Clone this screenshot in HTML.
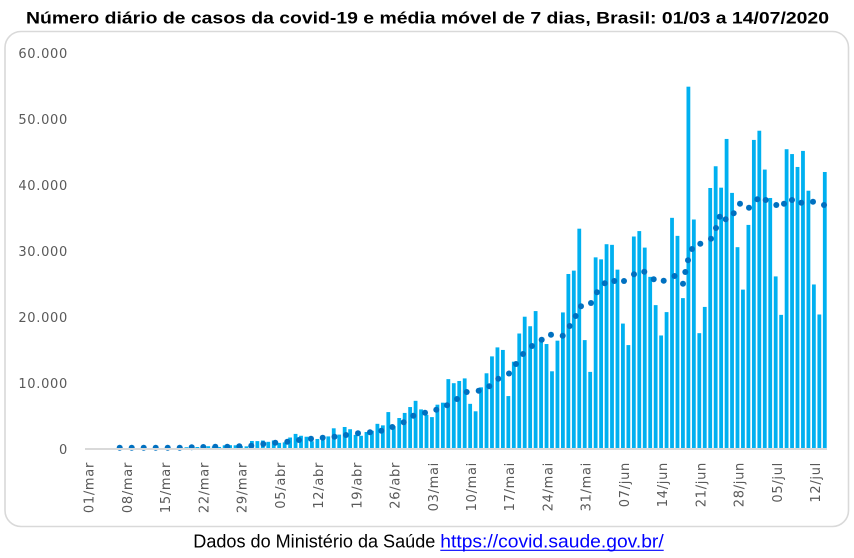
<!DOCTYPE html>
<html>
<head>
<meta charset="utf-8">
<style>
  html, body { margin: 0; padding: 0; background: #ffffff; }
  body { width: 854px; height: 558px; overflow: hidden; }
  svg { display: block; }
  .yl { font-family: "DejaVu Sans", "Liberation Sans", sans-serif; font-size: 13px; fill: #595959; letter-spacing: 0.7px; }
  .xl { font-family: "DejaVu Sans", "Liberation Sans", sans-serif; font-size: 13px; fill: #595959; letter-spacing: 0.7px; }
  .title { font-family: "Liberation Sans", sans-serif; font-size: 17px; font-weight: bold; fill: #000; }
  .foot { font-family: "Liberation Sans", sans-serif; font-size: 18px; fill: #000; }
  .link { font-family: "Liberation Sans", sans-serif; font-size: 18px; fill: #0000ff; }
</style>
</head>
<body>
<svg width="854" height="558" viewBox="0 0 854 558" xmlns="http://www.w3.org/2000/svg">
  <rect x="0" y="0" width="854" height="558" fill="#ffffff"/>
  <!-- title -->
  <text class="title" x="26" y="23.3" textLength="803" lengthAdjust="spacingAndGlyphs">Número diário de casos da covid-19 e média móvel de 7 dias, Brasil: 01/03 a 14/07/2020</text>

  <!-- frame -->
  <rect x="5" y="31.5" width="843.5" height="495" rx="16" ry="16" fill="none" stroke="#d9d9d9" stroke-width="1.6"/>

  <!-- y labels -->
  <text class="yl" x="68" y="57.9" text-anchor="end">60.000</text>
  <text class="yl" x="68" y="123.9" text-anchor="end">50.000</text>
  <text class="yl" x="68" y="189.9" text-anchor="end">40.000</text>
  <text class="yl" x="68" y="255.9" text-anchor="end">30.000</text>
  <text class="yl" x="68" y="321.9" text-anchor="end">20.000</text>
  <text class="yl" x="68" y="387.9" text-anchor="end">10.000</text>
  <text class="yl" x="68" y="453.9" text-anchor="end">0</text>

  <!-- bars -->
  <g transform="translate(86.33,448.5) scale(5.456,-0.006606)" fill="#00b0f0">
    <!-- Mar -->
    <rect x="0" y="0" width="0.6965" height="0"/>
    <rect x="1" y="0" width="0.6965" height="0"/>
    <rect x="2" y="0" width="0.6965" height="0"/>
    <rect x="3" y="0" width="0.6965" height="1"/>
    <rect x="4" y="0" width="0.6965" height="5"/>
    <rect x="5" y="0" width="0.6965" height="5"/>
    <rect x="6" y="0" width="0.6965" height="6"/>
    <rect x="7" y="0" width="0.6965" height="6"/>
    <rect x="8" y="0" width="0.6965" height="0"/>
    <rect x="9" y="0" width="0.6965" height="9"/>
    <rect x="10" y="0" width="0.6965" height="18"/>
    <rect x="11" y="0" width="0.6965" height="25"/>
    <rect x="12" y="0" width="0.6965" height="21"/>
    <rect x="13" y="0" width="0.6965" height="23"/>
    <rect x="14" y="0" width="0.6965" height="79"/>
    <rect x="15" y="0" width="0.6965" height="34"/>
    <rect x="16" y="0" width="0.6965" height="57"/>
    <rect x="17" y="0" width="0.6965" height="137"/>
    <rect x="18" y="0" width="0.6965" height="193"/>
    <rect x="19" y="0" width="0.6965" height="283"/>
    <rect x="20" y="0" width="0.6965" height="224"/>
    <rect x="21" y="0" width="0.6965" height="418"/>
    <rect x="22" y="0" width="0.6965" height="345"/>
    <rect x="23" y="0" width="0.6965" height="310"/>
    <rect x="24" y="0" width="0.6965" height="232"/>
    <rect x="25" y="0" width="0.6965" height="482"/>
    <rect x="26" y="0" width="0.6965" height="502"/>
    <rect x="27" y="0" width="0.6965" height="487"/>
    <rect x="28" y="0" width="0.6965" height="352"/>
    <rect x="29" y="0" width="0.6965" height="323"/>
    <rect x="30" y="0" width="0.6965" height="1138"/>
    <!-- Apr -->
    <rect x="31" y="0" width="0.6965" height="1119"/>
    <rect x="32" y="0" width="0.6965" height="1208"/>
    <rect x="33" y="0" width="0.6965" height="1012"/>
    <rect x="34" y="0" width="0.6965" height="1222"/>
    <rect x="35" y="0" width="0.6965" height="852"/>
    <rect x="36" y="0" width="0.6965" height="926"/>
    <rect x="37" y="0" width="0.6965" height="1661"/>
    <rect x="38" y="0" width="0.6965" height="2210"/>
    <rect x="39" y="0" width="0.6965" height="1930"/>
    <rect x="40" y="0" width="0.6965" height="1781"/>
    <rect x="41" y="0" width="0.6965" height="1089"/>
    <rect x="42" y="0" width="0.6965" height="1442"/>
    <rect x="43" y="0" width="0.6965" height="1261"/>
    <rect x="44" y="0" width="0.6965" height="1832"/>
    <rect x="45" y="0" width="0.6965" height="3058"/>
    <rect x="46" y="0" width="0.6965" height="2105"/>
    <rect x="47" y="0" width="0.6965" height="3257"/>
    <rect x="48" y="0" width="0.6965" height="2917"/>
    <rect x="49" y="0" width="0.6965" height="2055"/>
    <rect x="50" y="0" width="0.6965" height="1927"/>
    <rect x="51" y="0" width="0.6965" height="2498"/>
    <rect x="52" y="0" width="0.6965" height="2678"/>
    <rect x="53" y="0" width="0.6965" height="3735"/>
    <rect x="54" y="0" width="0.6965" height="3503"/>
    <rect x="55" y="0" width="0.6965" height="5514"/>
    <rect x="56" y="0" width="0.6965" height="3379"/>
    <rect x="57" y="0" width="0.6965" height="4613"/>
    <rect x="58" y="0" width="0.6965" height="5385"/>
    <rect x="59" y="0" width="0.6965" height="6276"/>
    <rect x="60" y="0" width="0.6965" height="7218"/>
    <!-- May -->
    <rect x="61" y="0" width="0.6965" height="5919"/>
    <rect x="62" y="0" width="0.6965" height="5097"/>
    <rect x="63" y="0" width="0.6965" height="4751"/>
    <rect x="64" y="0" width="0.6965" height="6633"/>
    <rect x="65" y="0" width="0.6965" height="6935"/>
    <rect x="66" y="0" width="0.6965" height="10503"/>
    <rect x="67" y="0" width="0.6965" height="9888"/>
    <rect x="68" y="0" width="0.6965" height="10222"/>
    <rect x="69" y="0" width="0.6965" height="10611"/>
    <rect x="70" y="0" width="0.6965" height="6760"/>
    <rect x="71" y="0" width="0.6965" height="5632"/>
    <rect x="72" y="0" width="0.6965" height="9258"/>
    <rect x="73" y="0" width="0.6965" height="11385"/>
    <rect x="74" y="0" width="0.6965" height="13944"/>
    <rect x="75" y="0" width="0.6965" height="15305"/>
    <rect x="76" y="0" width="0.6965" height="14919"/>
    <rect x="77" y="0" width="0.6965" height="7938"/>
    <rect x="78" y="0" width="0.6965" height="13140"/>
    <rect x="79" y="0" width="0.6965" height="17408"/>
    <rect x="80" y="0" width="0.6965" height="19951"/>
    <rect x="81" y="0" width="0.6965" height="18508"/>
    <rect x="82" y="0" width="0.6965" height="20803"/>
    <rect x="83" y="0" width="0.6965" height="16508"/>
    <rect x="84" y="0" width="0.6965" height="15813"/>
    <rect x="85" y="0" width="0.6965" height="11687"/>
    <rect x="86" y="0" width="0.6965" height="16324"/>
    <rect x="87" y="0" width="0.6965" height="20599"/>
    <rect x="88" y="0" width="0.6965" height="26417"/>
    <rect x="89" y="0" width="0.6965" height="26928"/>
    <rect x="90" y="0" width="0.6965" height="33274"/>
    <rect x="91" y="0" width="0.6965" height="16409"/>
    <!-- Jun -->
    <rect x="92" y="0" width="0.6965" height="11598"/>
    <rect x="93" y="0" width="0.6965" height="28936"/>
    <rect x="94" y="0" width="0.6965" height="28633"/>
    <rect x="95" y="0" width="0.6965" height="30925"/>
    <rect x="96" y="0" width="0.6965" height="30830"/>
    <rect x="97" y="0" width="0.6965" height="27075"/>
    <rect x="98" y="0" width="0.6965" height="18912"/>
    <rect x="99" y="0" width="0.6965" height="15654"/>
    <rect x="100" y="0" width="0.6965" height="32091"/>
    <rect x="101" y="0" width="0.6965" height="32913"/>
    <rect x="102" y="0" width="0.6965" height="30412"/>
    <rect x="103" y="0" width="0.6965" height="25982"/>
    <rect x="104" y="0" width="0.6965" height="21704"/>
    <rect x="105" y="0" width="0.6965" height="17110"/>
    <rect x="106" y="0" width="0.6965" height="20647"/>
    <rect x="107" y="0" width="0.6965" height="34918"/>
    <rect x="108" y="0" width="0.6965" height="32188"/>
    <rect x="109" y="0" width="0.6965" height="22765"/>
    <rect x="110" y="0" width="0.6965" height="54771"/>
    <rect x="111" y="0" width="0.6965" height="34666"/>
    <rect x="112" y="0" width="0.6965" height="17459"/>
    <rect x="113" y="0" width="0.6965" height="21432"/>
    <rect x="114" y="0" width="0.6965" height="39436"/>
    <rect x="115" y="0" width="0.6965" height="42725"/>
    <rect x="116" y="0" width="0.6965" height="39483"/>
    <rect x="117" y="0" width="0.6965" height="46860"/>
    <rect x="118" y="0" width="0.6965" height="38693"/>
    <rect x="119" y="0" width="0.6965" height="30476"/>
    <rect x="120" y="0" width="0.6965" height="24052"/>
    <rect x="121" y="0" width="0.6965" height="33846"/>
    <!-- Jul -->
    <rect x="122" y="0" width="0.6965" height="46712"/>
    <rect x="123" y="0" width="0.6965" height="48105"/>
    <rect x="124" y="0" width="0.6965" height="42223"/>
    <rect x="125" y="0" width="0.6965" height="37923"/>
    <rect x="126" y="0" width="0.6965" height="26051"/>
    <rect x="127" y="0" width="0.6965" height="20229"/>
    <rect x="128" y="0" width="0.6965" height="45305"/>
    <rect x="129" y="0" width="0.6965" height="44571"/>
    <rect x="130" y="0" width="0.6965" height="42619"/>
    <rect x="131" y="0" width="0.6965" height="45048"/>
    <rect x="132" y="0" width="0.6965" height="39023"/>
    <rect x="133" y="0" width="0.6965" height="24831"/>
    <rect x="134" y="0" width="0.6965" height="20286"/>
    <rect x="135" y="0" width="0.6965" height="41857"/>
  </g>

  <!-- moving average dots -->
  <g fill="#0070c0">
    <circle cx="119.7" cy="447.7" r="3"/>
    <circle cx="131.7" cy="447.7" r="3"/>
    <circle cx="143.7" cy="447.7" r="3"/>
    <circle cx="155.7" cy="447.7" r="3"/>
    <circle cx="167.7" cy="447.7" r="3"/>
    <circle cx="179.7" cy="447.7" r="3"/>
    <circle cx="191.7" cy="447.3" r="3"/>
    <circle cx="203.3" cy="447" r="3"/>
    <circle cx="215.3" cy="446.7" r="3"/>
    <circle cx="227.3" cy="446.7" r="3"/>
    <circle cx="239.3" cy="446.3" r="3"/>
    <circle cx="251.3" cy="445.7" r="3"/>
    <circle cx="263.3" cy="444" r="3"/>
    <circle cx="275.3" cy="442.7" r="3"/>
    <circle cx="287.3" cy="441.7" r="3"/>
    <circle cx="299" cy="440" r="3"/>
    <circle cx="311" cy="438.7" r="3"/>
    <circle cx="322.7" cy="437.7" r="3"/>
    <circle cx="334.5" cy="436.7" r="3"/>
    <circle cx="346" cy="435" r="3"/>
    <circle cx="358" cy="433.3" r="3"/>
    <circle cx="370" cy="432.3" r="3"/>
    <circle cx="381.3" cy="430.7" r="3"/>
    <circle cx="392.3" cy="427" r="3"/>
    <circle cx="403.7" cy="422.3" r="3"/>
    <circle cx="413.3" cy="415.7" r="3"/>
    <circle cx="425" cy="412.7" r="3"/>
    <circle cx="436.3" cy="409.7" r="3"/>
    <circle cx="447" cy="405.3" r="3"/>
    <circle cx="457" cy="399" r="3"/>
    <circle cx="466.7" cy="392" r="3"/>
    <circle cx="478.7" cy="390.7" r="3"/>
    <circle cx="489.3" cy="386.3" r="3"/>
    <circle cx="498.3" cy="378.7" r="3"/>
    <circle cx="509" cy="373.5" r="3"/>
    <circle cx="516" cy="364" r="3"/>
    <circle cx="523" cy="354" r="3"/>
    <circle cx="532" cy="346" r="3"/>
    <circle cx="541.7" cy="339.7" r="3"/>
    <circle cx="551" cy="334.7" r="3"/>
    <circle cx="562.7" cy="335.7" r="3"/>
    <circle cx="569.7" cy="326" r="3"/>
    <circle cx="575.7" cy="316" r="3"/>
    <circle cx="581" cy="306.3" r="3"/>
    <circle cx="591" cy="303" r="3"/>
    <circle cx="597" cy="292.3" r="3"/>
    <circle cx="604.7" cy="283.3" r="3"/>
    <circle cx="614.3" cy="281" r="3"/>
    <circle cx="624" cy="281" r="3"/>
    <circle cx="634" cy="274.3" r="3"/>
    <circle cx="644.3" cy="271.7" r="3"/>
    <circle cx="653.7" cy="279.3" r="3"/>
    <circle cx="663.7" cy="280.7" r="3"/>
    <circle cx="674.5" cy="276" r="3"/>
    <circle cx="683" cy="283.7" r="3"/>
    <circle cx="685.3" cy="272" r="3"/>
    <circle cx="688" cy="260.3" r="3"/>
    <circle cx="692" cy="249" r="3"/>
    <circle cx="700.3" cy="243.7" r="3"/>
    <circle cx="711" cy="238.7" r="3"/>
    <circle cx="716" cy="228" r="3"/>
    <circle cx="719.7" cy="216.7" r="3"/>
    <circle cx="725.7" cy="219.3" r="3"/>
    <circle cx="733.7" cy="213.3" r="3"/>
    <circle cx="740" cy="203.7" r="3"/>
    <circle cx="749" cy="207.7" r="3"/>
    <circle cx="757.3" cy="199.3" r="3"/>
    <circle cx="765.7" cy="200" r="3"/>
    <circle cx="776.3" cy="205" r="3"/>
    <circle cx="784" cy="203.7" r="3"/>
    <circle cx="792" cy="200" r="3"/>
    <circle cx="801.3" cy="202.7" r="3"/>
    <circle cx="813" cy="201.7" r="3"/>
    <circle cx="824" cy="205" r="3"/>
  </g>

  <!-- x axis line -->
  <line x1="85" y1="449" x2="827" y2="449" stroke="#d9d9d9" stroke-width="2"/>

  <!-- x labels -->
  <text class="xl" transform="translate(93.7,462) rotate(-90)" text-anchor="end">01/mar</text>
  <text class="xl" transform="translate(131.9,462) rotate(-90)" text-anchor="end">08/mar</text>
  <text class="xl" transform="translate(170.2,462) rotate(-90)" text-anchor="end">15/mar</text>
  <text class="xl" transform="translate(208.4,462) rotate(-90)" text-anchor="end">22/mar</text>
  <text class="xl" transform="translate(246.6,462) rotate(-90)" text-anchor="end">29/mar</text>
  <text class="xl" transform="translate(284.9,462) rotate(-90)" text-anchor="end">05/abr</text>
  <text class="xl" transform="translate(323.1,462) rotate(-90)" text-anchor="end">12/abr</text>
  <text class="xl" transform="translate(361.3,462) rotate(-90)" text-anchor="end">19/abr</text>
  <text class="xl" transform="translate(399.5,462) rotate(-90)" text-anchor="end">26/abr</text>
  <text class="xl" transform="translate(437.8,462) rotate(-90)" text-anchor="end">03/mai</text>
  <text class="xl" transform="translate(476.0,462) rotate(-90)" text-anchor="end">10/mai</text>
  <text class="xl" transform="translate(514.2,462) rotate(-90)" text-anchor="end">17/mai</text>
  <text class="xl" transform="translate(552.5,462) rotate(-90)" text-anchor="end">24/mai</text>
  <text class="xl" transform="translate(590.7,462) rotate(-90)" text-anchor="end">31/mai</text>
  <text class="xl" transform="translate(628.9,462) rotate(-90)" text-anchor="end">07/jun</text>
  <text class="xl" transform="translate(667.2,462) rotate(-90)" text-anchor="end">14/jun</text>
  <text class="xl" transform="translate(705.4,462) rotate(-90)" text-anchor="end">21/jun</text>
  <text class="xl" transform="translate(743.6,462) rotate(-90)" text-anchor="end">28/jun</text>
  <text class="xl" transform="translate(781.8,462) rotate(-90)" text-anchor="end">05/jul</text>
  <text class="xl" transform="translate(820.1,462) rotate(-90)" text-anchor="end">12/jul</text>

  <!-- footer -->
  <text class="foot" x="193.3" y="547.7" textLength="242" lengthAdjust="spacingAndGlyphs">Dados do Ministério da Saúde</text>
  <text class="link" x="440.3" y="547.7" textLength="223.4" lengthAdjust="spacingAndGlyphs">https://covid.saude.gov.br/</text>
  <line x1="440.3" y1="550.3" x2="663.7" y2="550.3" stroke="#0000ff" stroke-width="1.2"/>
</svg>
</body>
</html>
